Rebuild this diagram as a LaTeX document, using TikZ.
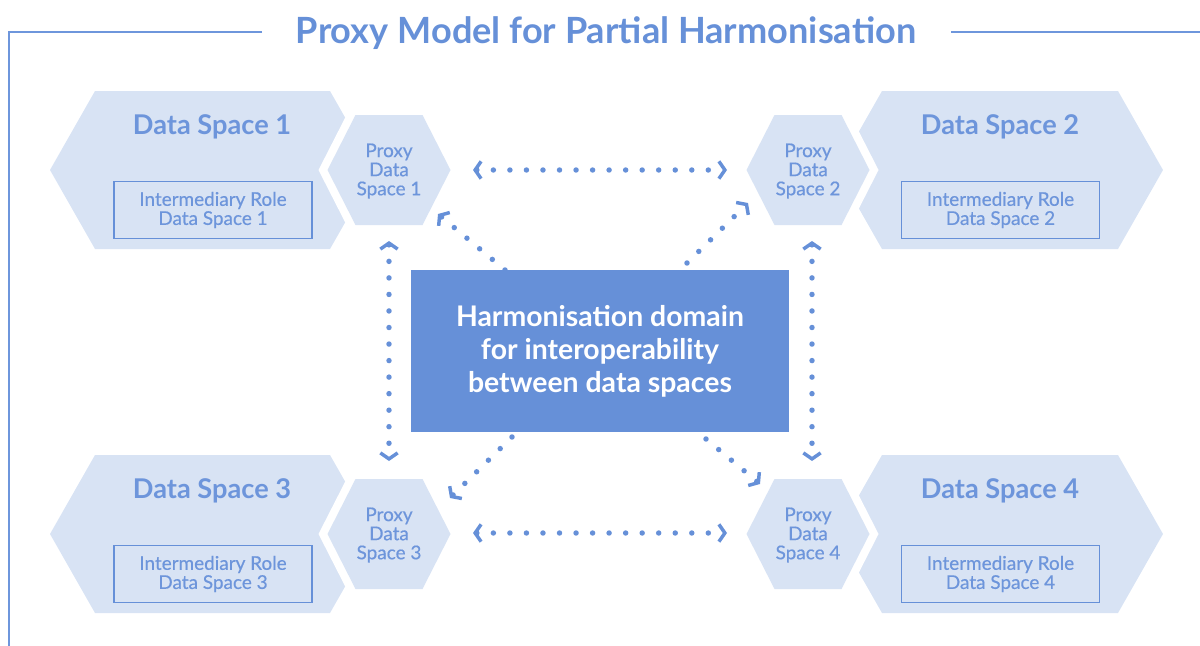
\documentclass[tikz,border=0pt]{standalone}
\usepackage{fontspec}
\setmainfont{Lato}
\newfontfamily\medfont[FakeBold=0.5]{Lato}
\usetikzlibrary{arrows.meta}
\definecolor{mainblue}{HTML}{6690D8}
\definecolor{lightblue}{HTML}{D8E3F4}
\definecolor{txtblue}{HTML}{6D95DB}
\definecolor{framecol}{HTML}{6E96DC}
\begin{document}
\begin{tikzpicture}[x=0.75pt,y=-0.75pt,
  chev/.tip={Straight Barb[length=4.5pt 0,width=13pt 0,line width=2.6pt 0]},
  frameline/.style={draw=framecol,line width=1.1pt},
  bighex/.style={fill=lightblue},
  gaphex/.style={fill=white},
  proxyhex/.style={fill=lightblue},
  dstitle/.style={font=\bfseries\fontsize{20.4}{24}\selectfont,text=txtblue,inner sep=0pt},
  rolebox/.style={draw=mainblue,line width=0.9pt,minimum width=148.5pt,minimum height=42.75pt,
    align=center,font=\medfont\fontsize{14.2}{14.3}\selectfont,text=txtblue,inner sep=0pt},
  proxytext/.style={align=center,font=\medfont\fontsize{14.2}{14.3}\selectfont,text=txtblue,inner sep=0pt},
  domainbox/.style={fill=mainblue,minimum width=283.5pt,minimum height=121.5pt,inner sep=0pt,
    align=center,text=white,font=\bfseries\fontsize{21.3}{24.8}\selectfont},
  conn/.style={draw=mainblue,line width=4.1pt,line cap=round,dash pattern=on 0pt off 12.4pt},
  twoway/.style={arrows=chev-chev},
  oneway/.style={arrows=-chev}]
\useasboundingbox (0,0) rectangle (1200,646);

% frame and title
\node[font=\bfseries\fontsize{27.1}{30}\selectfont,text=mainblue,inner sep=0pt] (title) at (606,33) {Proxy Model for Partial Harmonisation};
\draw[frameline] (262,32) -- (9,32) -- (9,646);
\draw[frameline] (951,32) -- (1200,32);

% left blocks (Data Space 1 and 3)
\foreach \cy/\n in {170/1,534/3}{
  \fill[bighex] (50,\cy) -- (95,\cy-79) -- (330,\cy-79) -- (375,\cy) -- (330,\cy+79) -- (95,\cy+79) -- cycle;
  \fill[gaphex] (318.5,\cy) -- (350.6,\cy-63) -- (427.4,\cy-63) -- (459.5,\cy) -- (427.4,\cy+63) -- (350.6,\cy+63) -- cycle;
  \fill[proxyhex] (327.5,\cy) -- (355.5,\cy-55) -- (422.5,\cy-55) -- (450.5,\cy) -- (422.5,\cy+55) -- (355.5,\cy+55) -- cycle;
  \node[dstitle] (t\n) at (212,\cy-43) {Data Space \n};
  \node[rolebox] (r\n) at (213,\cy+40) {Intermediary Role\\Data Space \n};
  \node[proxytext] (p\n) at (389,\cy+1) {Proxy\\Data\\Space \n};
}
% right blocks (Data Space 2 and 4)
\foreach \cy/\n in {170/2,534/4}{
  \fill[bighex] (837,\cy) -- (882,\cy-79) -- (1118,\cy-79) -- (1163,\cy) -- (1118,\cy+79) -- (882,\cy+79) -- cycle;
  \fill[gaphex] (737.5,\cy) -- (769.6,\cy-63) -- (846.4,\cy-63) -- (878.5,\cy) -- (846.4,\cy+63) -- (769.6,\cy+63) -- cycle;
  \fill[proxyhex] (746.5,\cy) -- (774.5,\cy-55) -- (841.5,\cy-55) -- (869.5,\cy) -- (841.5,\cy+55) -- (774.5,\cy+55) -- cycle;
  \node[dstitle] (t\n) at (1000,\cy-43) {Data Space \n};
  \node[rolebox] (r\n) at (1000.5,\cy+40) {Intermediary Role\\Data Space \n};
  \node[proxytext] (p\n) at (808,\cy+1) {Proxy\\Data\\Space \n};
}

% connector end points
\coordinate (h1a) at (473,170); \coordinate (h1b) at (727,170);
\coordinate (h2a) at (473,533); \coordinate (h2b) at (727,533);
\coordinate (v1a) at (389,241); \coordinate (v1b) at (389,461);
\coordinate (v2a) at (812,241); \coordinate (v2b) at (812,461);
\coordinate (dTLs) at (505,270); \coordinate (dTLe) at (438,214);
\coordinate (dTRs) at (687,263); \coordinate (dTRe) at (748,203);
\coordinate (dBLs) at (512,437); \coordinate (dBLe) at (450,498);
\coordinate (dBRs) at (706,439); \coordinate (dBRe) at (760,484);

\draw[conn,twoway] (h1a) -- (h1b);
\draw[conn,twoway] (h2a) -- (h2b);
\draw[conn,twoway] (v1a) -- (v1b);
\draw[conn,twoway] (v2a) -- (v2b);
\draw[conn,oneway] (dTLs) -- (dTLe);
\draw[conn,oneway] (dTRs) -- (dTRe);
\draw[conn,oneway] (dBLs) -- (dBLe);
\draw[conn,oneway] (dBRs) -- (dBRe);

% central domain
\node[domainbox] (dom) at (600,351) {Harmonisation domain\\for interoperability\\between data spaces};
\end{tikzpicture}
\end{document}
